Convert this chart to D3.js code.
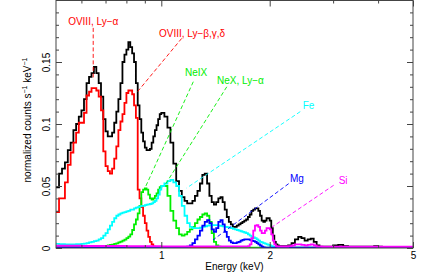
<!DOCTYPE html>
<html>
<head>
<meta charset="utf-8">
<script src="https://cdn.jsdelivr.net/npm/d3@7"></script>
<style>
  body { margin: 0; background: #fff; }
  text { font-family: "Liberation Sans", Arial, Helvetica, sans-serif; }
</style>
</head>
<body>
<svg id="chart" width="424" height="274"></svg>
<script>
let WIDTH = 424;
let HEIGHT = 274;

// bin edges in keV (147 edges -> 146 bins)
let edges = [
  0.50,0.51,0.52,0.53,0.54,0.55,0.56,0.57,0.58,0.59,
  0.60,0.61,0.62,0.63,0.64,0.65,0.66,0.67,0.68,0.69,
  0.70,0.71,0.72,0.73,0.74,0.75,0.76,0.77,0.78,0.79,
  0.80,0.81,0.82,0.83,0.84,0.85,0.86,0.87,0.88,0.89,
  0.90,0.91,0.92,0.93,0.94,0.95,0.96,0.97,0.98,0.99,
  1.00,1.02,1.04,1.06,1.08,1.10,1.12,1.14,1.16,1.18,
  1.20,1.22,1.24,1.26,1.28,1.30,1.32,1.34,1.36,1.38,
  1.40,1.42,1.44,1.46,1.48,1.50,1.52,1.54,1.56,1.58,
  1.60,1.62,1.64,1.66,1.68,1.70,1.72,1.74,1.76,1.78,
  1.80,1.82,1.84,1.86,1.88,1.90,1.92,1.94,1.96,1.98,
  2.00,2.02,2.04,2.06,2.08,2.10,2.12,2.14,2.16,2.18,
  2.20,2.25,2.30,2.35,2.40,2.45,
  2.50,2.55,2.60,2.65,2.70,2.75,
  2.80,2.85,2.90,2.95,
  3.0,3.1,3.2,3.3,3.4,3.5,3.6,3.7,3.8,3.9,
  4.0,4.1,4.2,4.3,4.4,4.5,4.6,4.7,4.8,4.9,
  5.0
];

// total model (black)
let total = [
  0.049,0.049,0.060,0.064,0.069,0.079,0.085,0.095,0.100,0.106,
  0.111,0.120,0.133,0.138,0.141,0.146,0.141,0.133,0.122,0.104,
  0.094,0.090,0.090,0.093,0.101,0.110,0.120,0.133,0.150,0.156,
  0.160,0.166,0.162,0.157,0.150,0.133,0.115,0.104,0.093,0.086,
  0.081,0.079,0.079,0.080,0.085,0.090,0.095,0.099,0.104,0.108,
  0.109,0.106,0.097,0.085,0.068,0.054,0.046,0.041,0.038,0.036,
  0.036,0.038,0.042,0.046,0.052,0.059,0.060,0.052,0.042,0.037,
  0.035,0.037,0.040,0.041,0.037,0.031,0.025,0.021,0.019,0.017,
  0.017,0.018,0.019,0.020,0.021,0.022,0.023,0.025,0.027,0.030,
  0.031,0.032,0.032,0.030,0.026,0.022,0.021,0.022,0.024,0.024,
  0.022,0.016,0.010,0.005,0.003,0.002,0.0015,0.0015,0.0015,0.0015,
  0.0015,0.002,0.004,0.007,0.009,0.008,
  0.006,0.007,0.0075,0.005,0.002,0.001,
  0.001,0.001,0.001,0.001,
  0.002,0.0025,0.0015,0.001,0.001,0.001,0.001,0.001,0.001,0.0015,
  0.001,0.0008,0.0008,0.0008,0.0008,0.0008,0.0008,0.0008,0.0008,0.0008
];

// OVIII (red)
let oviii = [
  0.029,0.029,0.040,0.040,0.053,0.067,0.077,0.085,0.093,0.101,
  0.101,0.109,0.123,0.126,0.129,0.129,0.127,0.122,0.111,0.078,
  0.066,0.062,0.060,0.064,0.072,0.082,0.095,0.102,0.108,0.117,
  0.125,0.127,0.127,0.124,0.115,0.105,0.047,0.040,0.033,0.026,
  0.020,0.014,0.009,0.005,0.003,0.001,0.0005,0.0003,0.0002,0.0002,
  0,0,0,0,0,0,0,0,0,0,
  0,0,0,0,0,0,0,0,0,0,
  0,0,0,0,0,0,0,0,0,0,
  0,0,0,0,0,0,0,0,0,0,
  0,0,0,0,0,0,0,0,0,0,
  0,0,0,0,0,0,0,0,0,0,
  0,0,0,0,0,0,
  0,0,0,0,0,0,
  0,0,0,0,
  0,0,0,0,0,0,0,0,0,0,
  0,0,0,0,0,0,0,0,0,0
];

// Ne (green)
let neon = [
  0.0008,0.0008,0.0008,0.0008,0.0008,0.0008,0.0008,0.0008,0.0008,0.0008,
  0.0008,0.0008,0.0008,0.0008,0.0008,0.0008,0.0008,0.0008,0.0008,0.0012,
  0.0015,0.0020,0.0024,0.0028,0.0033,0.0038,0.0045,0.0052,0.0060,0.0068,
  0.0080,0.0092,0.011,0.0145,0.019,0.023,0.028,0.034,0.045,0.047,
  0.048,0.047,0.043,0.040,0.039,0.040,0.042,0.044,0.047,0.049,
  0.050,0.050,0.042,0.030,0.022,0.016,0.011,0.010,0.011,0.013,
  0.015,0.017,0.020,0.023,0.025,0.027,0.028,0.026,0.021,0.012,
  0.005,0.002,0.001,0.0006,0.0005,0.0004,0.0003,0.0003,0.0003,0.0003,
  0.0002,0.0002,0.0002,0.0002,0.0002,0.0002,0.0002,0.0002,0.0002,0.0002,
  0.0002,0.0002,0.0002,0.0002,0.0002,0.0002,0.0002,0.0002,0.0002,0.0002,
  0.0002,0.0002,0.0002,0.0002,0.0002,0.0002,0.0002,0.0002,0.0002,0.0002,
  0.0002,0.0002,0.0002,0.0002,0.0002,0.0002,
  0.0002,0.0002,0.0002,0.0002,0.0002,0.0002,
  0.0002,0.0002,0.0002,0.0002,
  0.0002,0.0002,0.0002,0.0002,0.0002,0.0002,0.0002,0.0002,0.0002,0.0002,
  0.0002,0.0002,0.0002,0.0002,0.0002,0.0002,0.0002,0.0002,0.0002,0.0002
];

// Fe (cyan)
let iron = [
  0.0035,0.0033,0.0032,0.0031,0.0030,0.0030,0.0030,0.0030,0.0031,0.0032,
  0.0034,0.0036,0.0040,0.0045,0.0050,0.0055,0.0060,0.0070,0.0080,0.0100,
  0.012,0.015,0.018,0.021,0.024,0.026,0.027,0.028,0.0285,0.029,
  0.0295,0.030,0.031,0.031,0.032,0.0325,0.033,0.0335,0.034,0.034,
  0.0345,0.035,0.0352,0.0355,0.036,0.037,0.038,0.040,0.043,0.047,
  0.050,0.052,0.054,0.055,0.053,0.050,0.042,0.034,0.026,0.020,
  0.017,0.016,0.016,0.016,0.0165,0.017,0.0175,0.018,0.0185,0.0185,
  0.0185,0.0185,0.018,0.0178,0.0175,0.017,0.0168,0.0165,0.016,0.0155,
  0.015,0.0145,0.014,0.0135,0.013,0.0125,0.012,0.011,0.010,0.009,
  0.0085,0.008,0.007,0.006,0.005,0.0045,0.004,0.0035,0.003,0.0025,
  0.002,0.0015,0.001,0.0008,0.0006,0.0005,0.0004,0.0003,0.0003,0.0003,
  0.0003,0.0003,0.0002,0.0002,0.0002,0.0002,
  0.0002,0.0002,0.0002,0.0002,0.0002,0.0002,
  0.0002,0.0002,0.0002,0.0002,
  0.0001,0.0001,0.0001,0.0001,0.0001,0.0001,0.0001,0.0001,0.0001,0.0001,
  0.0001,0.0001,0.0001,0.0001,0.0001,0.0001,0.0001,0.0001,0.0001,0.0001
];

// Mg (blue)
let magnesium = [
  0.0005,0.0005,0.0005,0.0005,0.0005,0.0005,0.0005,0.0005,0.0005,0.0005,
  0.0004,0.0004,0.0004,0.0004,0.0004,0.0004,0.0004,0.0004,0.0004,0.0004,
  0.0003,0.0003,0.0003,0.0003,0.0003,0.0003,0.0003,0.0003,0.0003,0.0003,
  0.0003,0.0003,0.0003,0.0003,0.0003,0.0003,0.0003,0.0003,0.0003,0.0003,
  0.0003,0.0003,0.0003,0.0003,0.0003,0.0003,0.0003,0.0003,0.0003,0.0003,
  0.0003,0.0003,0.0003,0.0003,0.0003,0.0003,0.0003,0.0003,0.0005,0.001,
  0.002,0.004,0.007,0.010,0.014,0.018,0.021,0.0225,0.020,0.015,
  0.013,0.016,0.021,0.0225,0.019,0.013,0.009,0.006,0.0045,0.004,
  0.004,0.0045,0.005,0.006,0.0065,0.007,0.007,0.007,0.0065,0.006,
  0.0055,0.005,0.004,0.003,0.002,0.001,0.0005,0.0003,0.0003,0.0003,
  0.0002,0.0002,0.0002,0.0002,0.0002,0.0002,0.0002,0.0002,0.0002,0.0002,
  0.0002,0.0002,0.0002,0.0002,0.0002,0.0002,
  0.0002,0.0002,0.0002,0.0002,0.0002,0.0002,
  0.0002,0.0002,0.0002,0.0002,
  0.0002,0.0002,0.0002,0.0002,0.0002,0.0002,0.0002,0.0002,0.0002,0.0002,
  0.0002,0.0002,0.0002,0.0002,0.0002,0.0002,0.0002,0.0002,0.0002,0.0002
];

// Si (magenta)
let silicon = [
  0.0018,0.0018,0.0018,0.0018,0.0018,0.0018,0.0018,0.0018,0.0018,0.0018,
  0.0016,0.0016,0.0016,0.0016,0.0016,0.0016,0.0016,0.0016,0.0016,0.0016,
  0.0016,0.0016,0.0016,0.0016,0.0016,0.0016,0.0016,0.0016,0.0016,0.0016,
  0.0014,0.0014,0.0014,0.0014,0.0014,0.0014,0.0014,0.0014,0.0014,0.0014,
  0.0014,0.0014,0.0014,0.0014,0.0014,0.0014,0.0014,0.0014,0.0014,0.0014,
  0.0012,0.0012,0.0012,0.0012,0.0012,0.0012,0.0012,0.0012,0.0012,0.0012,
  0.0012,0.0012,0.0012,0.0012,0.0012,0.0012,0.0012,0.0012,0.0012,0.0012,
  0.0012,0.0012,0.0012,0.0012,0.0012,0.0012,0.0012,0.0012,0.0012,0.0012,
  0.0012,0.0012,0.0012,0.0012,0.0012,0.0012,0.0012,0.0015,0.003,0.008,
  0.014,0.018,0.0185,0.017,0.014,0.012,0.012,0.014,0.016,0.016,
  0.015,0.011,0.006,0.003,0.0015,0.0012,0.0012,0.0012,0.0012,0.0012,
  0.0012,0.0015,0.002,0.003,0.003,0.0025,
  0.002,0.0025,0.003,0.002,0.0012,0.0012,
  0.001,0.001,0.001,0.001,
  0.001,0.001,0.001,0.001,0.001,0.001,0.001,0.001,0.001,0.001,
  0.001,0.001,0.001,0.001,0.001,0.001,0.001,0.001,0.001,0.001
];

let xTickMajor = [1, 2, 5];
let xTickMinor = [0.6, 0.7, 0.8, 0.9, 3, 4];
let yTickMajor = [0, 0.05, 0.1, 0.15];
let yTickMinor = [0.01,0.02,0.03,0.04,0.06,0.07,0.08,0.09,0.11,0.12,0.13,0.14,0.16,0.17,0.18,0.19];

// label, colour, text anchor (keV, value), leader line from/to (keV, value)
let notes = [
  {label: 'OVIII, Ly\u2212\u03b1', color: '#ff0000', e: 0.647, v: 0.1802, anchor: 'middle', e1: 0.647, v1: 0.1775, e2: 0.647, v2: 0.1355},
  {label: 'OVIII, Ly\u2212\u03b2,\u03b3,\u03b4', color: '#ff0000', e: 0.985, v: 0.170, anchor: 'start', e1: 1.139, v1: 0.169, e2: 0.854, v2: 0.1252},
  {label: 'NeIX', color: '#00ee00', e: 1.164, v: 0.1387, anchor: 'start', e1: 1.227, v1: 0.1341, e2: 0.901, v2: 0.0484},
  {label: 'NeX, Ly\u2212\u03b1', color: '#00ee00', e: 1.428, v: 0.1319, anchor: 'start', e1: 1.52, v1: 0.130, e2: 1.024, v2: 0.0508},
  {label: 'Fe', color: '#00ffff', e: 2.47, v: 0.1117, anchor: 'start', e1: 2.432, v1: 0.110, e2: 1.176, v2: 0.0484},
  {label: 'Mg', color: '#0000ff', e: 2.277, v: 0.0532, anchor: 'start', e1: 2.258, v1: 0.0519, e2: 1.392, v2: 0.0065},
  {label: 'Si', color: '#ff00ff', e: 3.109, v: 0.0516, anchor: 'start', e1: 3.011, v1: 0.0506, e2: 2.030, v2: 0.0169}
];

let series = [
  {values: total, color: '#000000'},
  {values: oviii, color: '#ff0000'},
  {values: neon, color: '#00ee00'},
  {values: iron, color: '#00ffff'},
  {values: magnesium, color: '#0000ff'},
  {values: silicon, color: '#ff00ff'}
];

let plotLeft = 56, plotRight = 413, plotTop = 0.5, plotBottom = 248;

let xScale = d3.scaleLog().domain([0.51, 5]).range([plotLeft, plotRight]);
let yScale = d3.scaleLinear().domain([0, 0.2]).range([plotBottom, 0]);

let svg = d3.select('#chart');

svg.append('defs').append('clipPath')
    .attr('id', 'plot-clip')
  .append('rect')
    .attr('x', plotLeft).attr('y', 0)
    .attr('width', plotRight - plotLeft).attr('height', plotBottom);

// step histograms
let stepLine = d3.line()
  .x(d => xScale(d[0]))
  .y(d => yScale(d[1]))
  .curve(d3.curveStepAfter);

let plot = svg.append('g').attr('clip-path', 'url(#plot-clip)');

series.forEach(function (s) {
  let pts = s.values.map((v, i) => [edges[i], v]);
  pts.push([edges[s.values.length], s.values[s.values.length - 1]]);
  plot.append('path')
    .attr('d', stepLine(pts))
    .attr('fill', 'none')
    .attr('stroke', s.color)
    .attr('stroke-width', 1.8)
    .attr('stroke-linejoin', 'miter');
});

// leader lines and labels
let noteG = svg.append('g');
notes.forEach(function (n) {
  noteG.append('line')
    .attr('x1', xScale(n.e1)).attr('y1', yScale(n.v1))
    .attr('x2', xScale(n.e2)).attr('y2', yScale(n.v2))
    .attr('stroke', n.color)
    .attr('stroke-width', 0.9)
    .attr('stroke-dasharray', '4,2.5');
  noteG.append('text')
    .attr('x', xScale(n.e)).attr('y', yScale(n.v))
    .attr('text-anchor', n.anchor)
    .attr('fill', n.color)
    .attr('font-size', 10)
    .text(n.label);
});

// frame
let axisColor = '#444';
svg.append('rect')
  .attr('x', plotLeft).attr('y', plotTop)
  .attr('width', plotRight - plotLeft).attr('height', plotBottom - plotTop)
  .attr('fill', 'none')
  .attr('stroke', axisColor)
  .attr('stroke-width', 1);

function styleAxis(g) {
  g.select('.domain').remove();
  g.selectAll('line').attr('stroke', axisColor);
  g.selectAll('text').attr('fill', '#000').attr('font-size', 10)
    .attr('font-family', '"Liberation Sans", Arial, sans-serif');
}

// bottom axis (inward ticks)
let bottomAxis = d3.axisBottom(xScale).tickValues(xTickMajor)
  .tickFormat(d3.format('d')).tickSizeInner(-6).tickPadding(4);
svg.append('g').attr('transform', 'translate(0,' + plotBottom + ')')
  .call(bottomAxis).call(styleAxis);
svg.append('g').attr('transform', 'translate(0,' + plotBottom + ')')
  .call(d3.axisBottom(xScale).tickValues(xTickMinor).tickFormat('').tickSizeInner(-3))
  .call(styleAxis);

// top axis
svg.append('g').attr('transform', 'translate(0,' + plotTop + ')')
  .call(d3.axisTop(xScale).tickValues(xTickMajor).tickFormat('').tickSizeInner(-6))
  .call(styleAxis);
svg.append('g').attr('transform', 'translate(0,' + plotTop + ')')
  .call(d3.axisTop(xScale).tickValues(xTickMinor).tickFormat('').tickSizeInner(-3))
  .call(styleAxis);

// left axis with rotated labels
let leftG = svg.append('g').attr('transform', 'translate(' + plotLeft + ',0)')
  .call(d3.axisLeft(yScale).tickValues(yTickMajor).tickFormat(d3.format('')).tickSizeInner(-6))
  .call(styleAxis);
leftG.selectAll('text')
  .attr('x', 0).attr('dy', 0)
  .attr('text-anchor', 'middle')
  .attr('transform', 'translate(-6,0) rotate(-90)');
svg.append('g').attr('transform', 'translate(' + plotLeft + ',0)')
  .call(d3.axisLeft(yScale).tickValues(yTickMinor).tickFormat('').tickSizeInner(-3))
  .call(styleAxis);

// right axis
svg.append('g').attr('transform', 'translate(' + plotRight + ',0)')
  .call(d3.axisRight(yScale).tickValues(yTickMajor).tickFormat('').tickSizeInner(-6))
  .call(styleAxis);
svg.append('g').attr('transform', 'translate(' + plotRight + ',0)')
  .call(d3.axisRight(yScale).tickValues(yTickMinor).tickFormat('').tickSizeInner(-3))
  .call(styleAxis);

// axis titles
svg.append('text')
  .attr('x', (plotLeft + plotRight) / 2).attr('y', 270)
  .attr('text-anchor', 'middle')
  .attr('font-size', 10)
  .text('Energy (keV)');

let yTitle = svg.append('text')
  .attr('transform', 'translate(31,' + 120 + ') rotate(-90)')
  .attr('text-anchor', 'middle')
  .attr('font-size', 10);
yTitle.append('tspan').text('normalized counts s');
yTitle.append('tspan').attr('dy', -4).attr('font-size', 7).text('\u22121');
yTitle.append('tspan').attr('dy', 4).text(' keV');
yTitle.append('tspan').attr('dy', -4).attr('font-size', 7).text('\u22121');
</script>
</body>
</html>
